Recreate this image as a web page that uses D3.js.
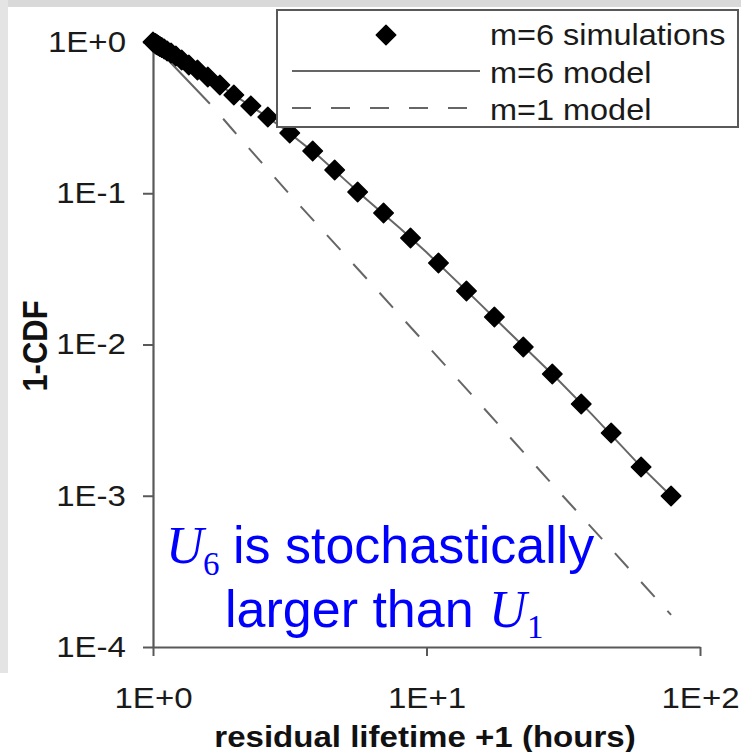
<!DOCTYPE html>
<html>
<head>
<meta charset="utf-8">
<script src="https://cdn.jsdelivr.net/npm/d3@7"></script>
<style>
  body { margin: 0; background: #ffffff; }
  svg { display: block; }
</style>
</head>
<body>
<svg id="chart" width="741" height="752"></svg>
<script>
// m=6 simulations (x = residual lifetime + 1 in hours, y = 1-CDF)
const simX = [1.000, 1.020, 1.027, 1.035, 1.046, 1.059, 1.076, 1.099, 1.127, 1.164, 1.212, 1.273, 1.352, 1.454, 1.586, 1.756,
              1.975, 2.279, 2.629, 3.162, 3.836, 4.616, 5.601, 6.966, 8.741, 11.06, 14.00, 17.71, 22.59, 28.84, 36.79, 47.34, 60.90, 78.37]
const simY = [1.000, 0.976, 0.967, 0.958, 0.948, 0.934, 0.920, 0.899, 0.872, 0.846, 0.808, 0.760, 0.704, 0.653, 0.587, 0.520,
              0.446, 0.378, 0.319, 0.250, 0.190, 0.1425, 0.1019, 0.0740, 0.0506, 0.0346, 0.0226, 0.0152, 0.00963, 0.00638, 0.00404, 0.00260, 0.00155, 0.000996]

// m=6 model
const m6ModelX = [1, 1.1, 1.25, 1.5, 1.75, 2, 2.5, 3, 4, 5, 6, 8, 10, 15, 20, 30, 40, 60, 78.4]
const m6ModelY = [1, 0.898, 0.775, 0.63, 0.522, 0.44, 0.337, 0.268, 0.178, 0.124, 0.0921, 0.0587, 0.0407, 0.0201, 0.0121, 0.00593, 0.00349, 0.0016, 0.000996]

// m=1 model
const m1ModelX = [1, 1.154, 1.656, 1.959, 3.245, 6.19, 12.13, 30.0, 78.4]
const m1ModelY = [1, 0.738, 0.372, 0.262, 0.0932, 0.026, 0.00678, 0.00110, 0.000163]

const xTicks = [1, 10, 100]
const yTicks = [1, 0.1, 0.01, 0.001, 0.0001]
const legendLabels = ["m=6 simulations", "m=6 model", "m=1 model"]

const sans = "'Liberation Sans', Arial, sans-serif"
const serif = "'Liberation Serif', 'Times New Roman', serif"
const axisColor = "#595959"
const lineColor = "#666666"

const svg = d3.select("#chart")

// slide background strips
svg.append("rect").attr("x", 0).attr("y", 0).attr("width", 741).attr("height", 7).attr("fill", "#d9d9d9")
svg.append("rect").attr("x", 0).attr("y", 0).attr("width", 8).attr("height", 673).attr("fill", "#e4e4e4")

const x = d3.scaleLog().domain([1, 100]).range([153, 700])
const y = d3.scaleLog().domain([1e-4, 1]).range([647, 42])

const fmt = d => {
    const e = Math.round(Math.log10(d))
    return "1E" + (e >= 0 ? "+" : "-") + Math.abs(e)
}

// stretch text a bit wider, the picture is squeezed horizontally
function stretch(sel, k) {
    sel.each(function() {
        const w = this.getComputedTextLength()
        d3.select(this).attr("textLength", w * k).attr("lengthAdjust", "spacingAndGlyphs")
    })
}

const yAxis = svg.append("g")
    .attr("transform", "translate(153,0)")
    .call(d3.axisLeft(y).tickValues(yTicks).tickFormat(fmt).tickSize(10).tickSizeOuter(0).tickPadding(17))
const xAxis = svg.append("g")
    .attr("transform", "translate(0,647)")
    .call(d3.axisBottom(x).tickValues(xTicks).tickFormat(fmt).tickSize(9).tickSizeOuter(0).tickPadding(31))

for (const ax of [yAxis, xAxis]) {
    ax.select(".domain").attr("stroke", axisColor).attr("stroke-width", 2.2)
    ax.selectAll(".tick line").attr("stroke", axisColor).attr("stroke-width", 2)
    ax.selectAll(".tick text")
        .attr("fill", "#1a1a1a")
        .style("font-family", sans)
        .style("font-size", "29.5px")
    stretch(ax.selectAll(".tick text"), 1.12)
}

// axis titles
const xTitle = svg.append("text")
    .attr("x", 425).attr("y", 747)
    .attr("text-anchor", "middle")
    .style("font-family", sans).style("font-size", "29.5px").style("font-weight", "bold")
    .attr("fill", "#111")
    .text("residual lifetime +1 (hours)")
stretch(xTitle, 1.12)

svg.append("text")
    .attr("transform", "translate(47,346) rotate(-90) scale(1,1.12)")
    .attr("text-anchor", "middle")
    .style("font-family", sans).style("font-size", "31px").style("font-weight", "bold")
    .attr("fill", "#111")
    .text("1-CDF")

// model lines
const line = d3.line().x(d => x(d[0])).y(d => y(d[1]))

svg.append("path")
    .datum(d3.zip(m1ModelX, m1ModelY))
    .attr("d", line)
    .attr("fill", "none")
    .attr("stroke", lineColor)
    .attr("stroke-width", 2)
    .attr("stroke-dasharray", "84,20,20,19,20,19,20,19,20,19,20,19,20,19,20,19,20,19,20,19,20,19,20,19,20,19,20,19,20,19,20,19,20,19,20,19")

svg.append("path")
    .datum(d3.zip(m6ModelX, m6ModelY))
    .attr("d", line)
    .attr("fill", "none")
    .attr("stroke", lineColor)
    .attr("stroke-width", 2)

// simulation markers
const diamond = d3.symbol().type(d3.symbolSquare).size(190)
svg.selectAll(".sim")
    .data(d3.zip(simX, simY))
    .enter()
    .append("path")
    .attr("class", "sim")
    .attr("d", diamond)
    .attr("transform", d => "translate(" + x(d[0]) + "," + y(d[1]) + ") rotate(45)")
    .attr("fill", "#000")
    .attr("stroke", "#000")
    .attr("stroke-width", 1.5)
    .attr("stroke-linejoin", "round")

// legend
const legend = svg.append("g")
legend.append("rect")
    .attr("x", 277).attr("y", 10).attr("width", 461).attr("height", 117)
    .attr("fill", "#fff").attr("stroke", axisColor).attr("stroke-width", 2)

legend.append("path")
    .attr("d", diamond)
    .attr("transform", "translate(386,35) rotate(45)")
    .attr("fill", "#000").attr("stroke", "#000").attr("stroke-width", 1.5).attr("stroke-linejoin", "round")
legend.append("line")
    .attr("x1", 292).attr("x2", 480).attr("y1", 71).attr("y2", 71)
    .attr("stroke", lineColor).attr("stroke-width", 2)
legend.append("line")
    .attr("x1", 292).attr("x2", 468).attr("y1", 108).attr("y2", 108)
    .attr("stroke", lineColor).attr("stroke-width", 2).attr("stroke-dasharray", "19,20")

const legendText = legend.selectAll(".lt")
    .data(legendLabels)
    .enter()
    .append("text")
    .attr("class", "lt")
    .attr("x", 490)
    .attr("y", (d, i) => 45 + i * 37.5)
    .style("font-family", sans).style("font-size", "29.5px")
    .attr("fill", "#1a1a1a")
    .text(d => d)
stretch(legendText, 1.1)

// annotation
const blue = "#0000ff"
const note = svg.append("g").attr("fill", blue)
note.append("text").attr("x", 166).attr("y", 563)
    .style("font-family", serif).style("font-style", "italic").style("font-size", "52px").text("U")
note.append("text").attr("x", 203).attr("y", 575)
    .style("font-family", serif).style("font-size", "33px").text("6")
note.append("text").attr("x", 233).attr("y", 563)
    .style("font-family", sans).style("font-size", "52px").text("is stochastically")
note.append("text").attr("x", 225).attr("y", 627)
    .style("font-family", sans).style("font-size", "52px").text("larger than")
note.append("text").attr("x", 489).attr("y", 627)
    .style("font-family", serif).style("font-style", "italic").style("font-size", "52px").text("U")
note.append("text").attr("x", 527).attr("y", 638)
    .style("font-family", serif).style("font-size", "33px").text("1")
</script>
</body>
</html>
